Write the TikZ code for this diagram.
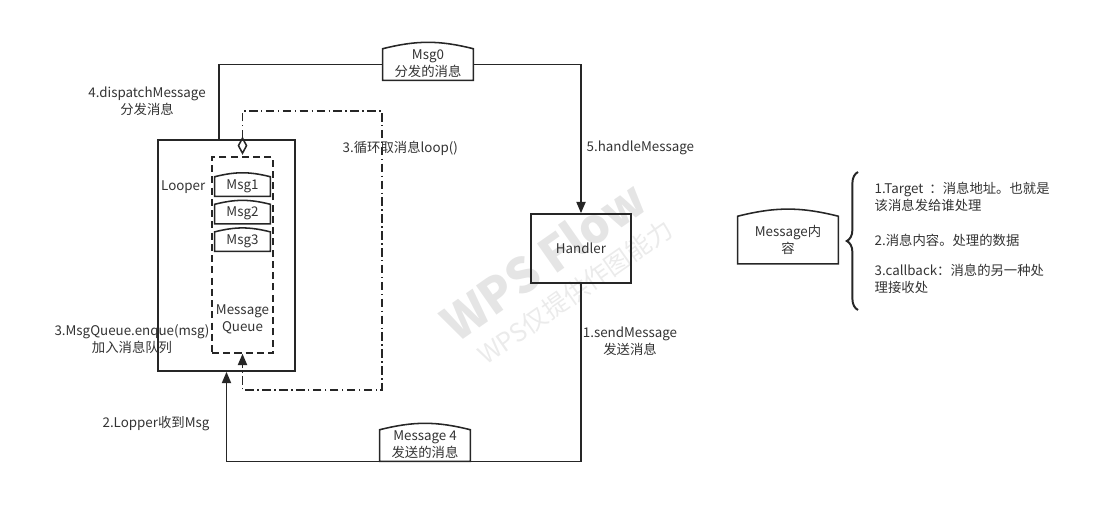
\documentclass[tikz,border=0pt]{standalone}
\usepackage{fontspec}
\setmainfont{Noto Sans CJK SC}
\usetikzlibrary{arrows.meta, positioning, calc, decorations.pathreplacing}

\begin{document}
\begin{tikzpicture}[
    x=0.025cm, y=-0.025cm,
    every node/.style={font=\fontsize{9.5pt}{12pt}\selectfont, text=black!80},
    box/.style={rectangle, draw=black!85, line width=1.2pt},
    qbox/.style={rectangle, draw=black!85, line width=1.1pt, dashed,
                 dash pattern=on 5pt off 3pt},
    tape/.style={rectangle, inner sep=0pt, align=center},
    tapeline/.style={draw=black!85, line width=1.1pt, fill=white},
    flow/.style={draw=black!85, line width=1.1pt},
    loopline/.style={draw=black!85, line width=1.1pt,
                     dash pattern=on 6pt off 2.5pt on 1pt off 2.5pt},
    lbl/.style={align=center, inner sep=1pt},
    wmark/.style={text=black!10, font=\fontsize{34pt}{34pt}\selectfont\bfseries,
                  rotate=35, inner sep=0pt},
    >={Triangle[length=8pt, width=6.5pt]}
]
\useasboundingbox (0,0) rectangle (1111,524);

% --- watermark ---
\node[wmark] (wm1) at (543,260) {WPS Flow};
\node[wmark, font=\fontsize{18pt}{18pt}\selectfont, text=black!8] (wm2) at (575,292) {WPS仅提供作图能力};

% --- looper and queue ---
\node[box, minimum width=3.425cm, minimum height=5.775cm] (looper) at (226.5,255.5) {};
\node[qbox, minimum width=1.525cm, minimum height=4.9cm] (queue) at (242.5,255) {};
\node[anchor=east, inner sep=1pt] (looperlbl) at (207,187) {Looper};
\node[lbl, above=0.45cm of queue.south] (queuelbl) {Message\\Queue};

\node[tape, minimum width=1.375cm, minimum height=0.475cm] (q1) at (242.5,186.5) {Msg1};
\node[tape, minimum width=1.375cm, minimum height=0.475cm, below=0.2cm of q1] (q2) {Msg2};
\node[tape, minimum width=1.375cm, minimum height=0.475cm, below=0.2cm of q2] (q3) {Msg3};

% --- handler and messages ---
\node[box, minimum width=2.5cm, minimum height=1.725cm] (handler) at (581,248.5) {Handler};
\node[tape, minimum width=2.25cm, minimum height=0.775cm] (msg0) at (428,64.5) {Msg0\\分发的消息};
\node[tape, minimum width=2.25cm, minimum height=0.775cm] (msg4) at (425,445.5) {Message 4\\发送的消息};
\node[tape, minimum width=2.5cm, minimum height=1.175cm] (msgc) at (788,240) {Message内\\容};

% --- connectors ---
\draw[flow] ([xshift=-0.19cm]looper.north) |- (msg0.west);
\draw[flow, ->] (msg0.east) -| (handler.north);
\draw[flow] (handler.south) |- (msg4.south east);
\draw[flow, ->] (msg4.south west) -| (looper.south);

\coordinate (loopa) at (382,111);
\coordinate (loopb) at (382,390);
\draw[loopline, {Diamond[open, length=13pt, width=7pt, sep=1pt]}->]
    (queue.north) |- (loopa) -- (loopb) -| (queue.south);

% tape outlines
\foreach \n in {msg0, msg4, msgc, q1, q2, q3}
  \draw[tapeline] (\n.south west) -- (\n.north west) to[bend left=14]
      (\n.north east) -- (\n.south east) -- cycle;
\foreach \n/\t in {msg0/{Msg0\\分发的消息}, msg4/{Message 4\\发送的消息},
                   msgc/{Message内\\容}, q1/Msg1, q2/Msg2, q3/Msg3}
  \node[tape] at ([yshift=0.3pt]\n.center) {\t};

% --- labels ---
\node[lbl] (lbldisp) at (147,101) {4.dispatchMessage\\分发消息};
\node[lbl, anchor=west] (lblloop) at (341,148) {3.循环取消息loop()};
\node[lbl, anchor=west] (lblhandle) at (585,148) {5.handleMessage};
\node[lbl] (lblenq) at (132,339) {3.MsgQueue.enque(msg)\\加入消息队列};
\node[lbl] (lblsend) at (630,341) {1.sendMessage\\发送消息};
\node[lbl] (lblrecv) at (156,424) {2.Lopper收到Msg};

% --- message content ---
\coordinate (bracetop) at (858,172);
\coordinate (bracebot) at (858,310);
\draw[flow, line width=1.4pt, decorate, decoration={brace, amplitude=0.28cm}]
    (bracebot) -- (bracetop);
\node[lbl, align=left, anchor=west] (t1) at (873,197) {1.Target \ ：消息地址。也就是\\该消息发给谁处理};
\node[lbl, align=left, anchor=west] (t2) at (873,240) {2.消息内容。处理的数据};
\node[lbl, align=left, anchor=west] (t3) at (873,279) {3.callback：消息的另一种处\\理接收处};

\end{tikzpicture}
\end{document}
